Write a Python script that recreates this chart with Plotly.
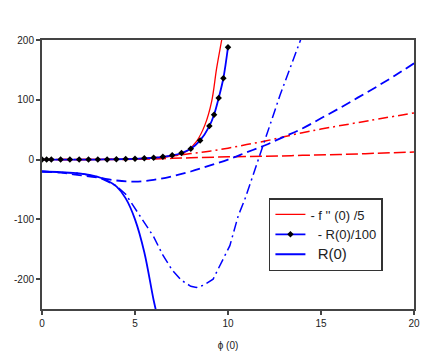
import plotly.graph_objects as go

# ---- data ----
# -f''(0)/5  (red solid)
x_f_solid = [0, 1, 2, 3, 4, 5, 5.5, 6, 6.5, 6.7, 7.24, 7.78, 8.32, 8.76, 9.12, 9.39, 9.66, 9.8]
y_f_solid = [0, 0, 0, 0.2, 0.5, 1.2, 2, 3, 4, 4.5, 7, 14, 31, 58, 97, 153, 200, 225]

# red dash-dot
x_f_dashdot = [0, 2, 4, 5, 6, 7, 8, 9, 10, 11, 12, 13, 14, 15, 17, 20]
y_f_dashdot = [0, 0, 0.5, 1, 3, 6, 10, 14, 19, 25, 31, 38, 45, 51, 62, 78]

# red dashed
x_f_dash = [0, 5, 7, 8, 10, 12, 14, 16, 18, 20]
y_f_dash = [0, 0.5, 2, 3, 4.5, 5.5, 7, 8.5, 10.5, 12.5]

# -R(0)/100 (blue line with black markers)
x_rm = [0, 0.25, 0.5, 1, 1.5, 2, 2.5, 3, 3.5, 4, 4.5, 5, 5.5, 6, 6.5, 7, 7.5, 8, 8.5,
        9, 9.25, 9.5, 9.75, 10]
y_rm = [0, 0, 0, 0, 0, 0, 0, 0, 0.3, 0.5, 0.8, 1.2, 2, 3, 4.5, 7, 11, 18, 32,
        56, 75, 103, 136, 188]

# R(0) blue solid
x_r_solid = [0, 1, 2, 3, 3.5, 4, 4.5, 5, 5.5, 6, 6.2]
y_r_solid = [-20, -21, -23, -29, -35, -45, -65, -100, -155, -235, -262]

# blue dashed
x_r_dash = [0, 1, 2, 3, 4, 5, 6, 7, 8, 9, 10, 11, 12, 13, 14, 15, 16, 17, 18, 19, 20]
y_r_dash = [-20, -22, -26, -30, -35, -37, -34, -28, -20, -10, 0, 12, 24, 38, 52, 69, 86,
            104, 122, 141, 161]

# blue dash-dot
x_r_dashdot = [0, 1, 2, 3, 4, 4.5, 5, 5.5, 6, 6.5, 7, 7.5, 8, 8.3, 8.7, 9.2, 9.75, 10.1,
               10.55, 10.9, 11.36, 11.9, 12.8, 13.9, 14.2]
y_r_dashdot = [-20, -21, -23, -29, -44, -58, -82, -105, -129, -160, -185, -202, -212, -214,
               -210, -200, -167, -144, -94, -67, -25, 25, 108, 200, 225]

x_ticks = [0, 5, 10, 15, 20]
x_ticktext = ["0", "5", "10", "15", "20"]
y_ticks = [-200, -100, 0, 100, 200]
y_ticktext = ["-200", "-100", "0", "100", "200"]

RED = "#ff0000"
BLUE = "#0000ff"

fig = go.Figure()

fig.add_trace(go.Scatter(x=x_f_dash, y=y_f_dash, mode="lines", showlegend=False,
                         line=dict(color=RED, width=1.5, dash="12px,4px", shape="spline")))
fig.add_trace(go.Scatter(x=x_f_dashdot, y=y_f_dashdot, mode="lines", showlegend=False,
                         line=dict(color=RED, width=1.5, dash="10px,4px,2px,4px", shape="spline")))
fig.add_trace(go.Scatter(x=x_r_dash, y=y_r_dash, mode="lines", showlegend=False,
                         line=dict(color=BLUE, width=1.8, dash="10px,5px", shape="spline")))
fig.add_trace(go.Scatter(x=x_r_dashdot, y=y_r_dashdot, mode="lines", showlegend=False,
                         line=dict(color=BLUE, width=1.5, dash="10px,4px,2px,4px")))
fig.add_trace(go.Scatter(x=x_r_solid, y=y_r_solid, mode="lines",
                         name="&nbsp;&nbsp;<span style='font-size:15px'>R(0)</span>",
                         legendrank=3,
                         line=dict(color=BLUE, width=1.8, shape="spline")))
fig.add_trace(go.Scatter(x=x_f_solid, y=y_f_solid, mode="lines", name="- f '' (0) /5",
                         legendrank=1,
                         line=dict(color=RED, width=1.3, shape="spline")))
fig.add_trace(go.Scatter(x=x_rm, y=y_rm, mode="lines+markers", name="&nbsp;&nbsp;- R(0)/100",
                         legendrank=2,
                         line=dict(color=BLUE, width=1.8, shape="spline"),
                         marker=dict(symbol="diamond", size=5, color="black")))

axis_common = dict(
    showgrid=False, zeroline=False, showline=True, mirror=True,
    linecolor="#444444", linewidth=2, automargin=False,
    ticks="outside", ticklen=4, tickwidth=1.5, tickcolor="#444444",
    tickfont=dict(family="Liberation Sans, Arial, sans-serif", size=10, color="#222222"),
)

# the page body has an 8px offset, so the figure is made 8px smaller and margins reduced
fig.update_layout(
    width=428, height=350,
    margin=dict(l=34, r=22, t=32, b=49),
    paper_bgcolor="white", plot_bgcolor="white",
    font=dict(family="Liberation Sans, Arial, sans-serif", size=11, color="#222222"),
    xaxis=dict(range=[0, 20], tickvals=x_ticks, ticktext=x_ticktext,
               title=dict(text="ϕ (0)", font=dict(size=10), standoff=14), **axis_common),
    yaxis=dict(range=[-250, 200], tickvals=y_ticks, ticktext=y_ticktext, **axis_common),
    legend=dict(x=0.61, y=0.4126, xanchor="left", yanchor="top",
                bordercolor="#333333", borderwidth=1.5, bgcolor="white",
                font=dict(size=13, color="#222222"), itemwidth=30,
                tracegroupgap=0),
)

fig.write_html("out.html")
